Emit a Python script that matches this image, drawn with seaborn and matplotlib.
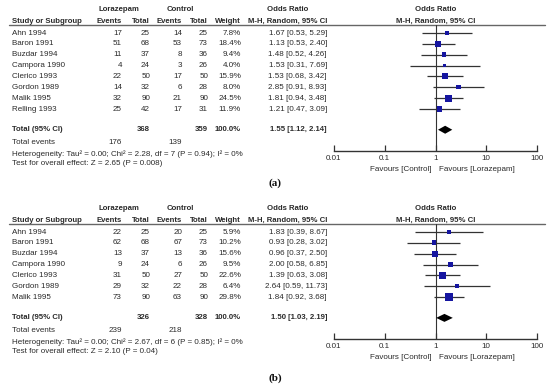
import numpy as np
import pandas as pd
import matplotlib
matplotlib.use("Agg")
import matplotlib.pyplot as plt
import seaborn as sns

sns.set_theme(style="white")
plt.rcParams['font.family'] = ['Liberation Sans', 'DejaVu Sans']

# ---------------- data: panel (a) ----------------
a_studies = ["Ahn 1994", "Baron 1991", "Buzdar 1994", "Campora 1990", "Clerico 1993",
             "Gordon 1989", "Malik 1995", "Relling 1993"]
a_lor_events = [17, 51, 11, 4, 22, 14, 32, 25]
a_lor_total = [25, 68, 37, 24, 50, 32, 90, 42]
a_ctl_events = [14, 53, 8, 3, 17, 6, 21, 17]
a_ctl_total = [25, 73, 36, 26, 50, 28, 90, 31]
a_weight = [7.8, 18.4, 9.4, 4.0, 15.9, 8.0, 24.5, 11.9]
a_or = [1.67, 1.13, 1.48, 1.53, 1.53, 2.85, 1.81, 1.21]
a_lo = [0.53, 0.53, 0.52, 0.31, 0.68, 0.91, 0.94, 0.47]
a_hi = [5.29, 2.40, 4.26, 7.69, 3.42, 8.93, 3.48, 3.09]
a_total = [368, 359]
a_total_events = [176, 139]
a_pooled = [1.55, 1.12, 2.14]
a_het = "Heterogeneity: Tau\u00b2 = 0.00; Chi\u00b2 = 2.28, df = 7 (P = 0.94); I\u00b2 = 0%"
a_test = "Test for overall effect: Z = 2.65 (P = 0.008)"

# ---------------- data: panel (b) ----------------
b_studies = ["Ahn 1994", "Baron 1991", "Buzdar 1994", "Campora 1990", "Clerico 1993",
             "Gordon 1989", "Malik 1995"]
b_lor_events = [22, 62, 13, 9, 31, 29, 73]
b_lor_total = [25, 68, 37, 24, 50, 32, 90]
b_ctl_events = [20, 67, 13, 6, 27, 22, 63]
b_ctl_total = [25, 73, 36, 26, 50, 28, 90]
b_weight = [5.9, 10.2, 15.6, 9.5, 22.6, 6.4, 29.8]
b_or = [1.83, 0.93, 0.96, 2.00, 1.39, 2.64, 1.84]
b_lo = [0.39, 0.28, 0.37, 0.58, 0.63, 0.59, 0.92]
b_hi = [8.67, 3.02, 2.50, 6.85, 3.08, 11.73, 3.68]
b_total = [326, 328]
b_total_events = [239, 218]
b_pooled = [1.50, 1.03, 2.19]
b_het = "Heterogeneity: Tau\u00b2 = 0.00; Chi\u00b2 = 2.67, df = 6 (P = 0.85); I\u00b2 = 0%"
b_test = "Test for overall effect: Z = 2.10 (P = 0.04)"

ticks = [0.01, 0.1, 1, 10, 100]
tick_labels = ["0.01", "0.1", "1", "10", "100"]

# ---------------- figure ----------------
W, H = 550, 389
fig = plt.figure(figsize=(W / 100, H / 100), dpi=100)
bg = fig.add_axes([0, 0, 1, 1])
bg.set_xlim(0, W)
bg.set_ylim(H, 0)
bg.axis("off")

FS = 5.8
FSB = 5.55
TC = "#2a2a2a"
MC = "#1515a0"

# column anchors (pixels)
X_NAME, X_EV1, X_TOT1, X_EV2, X_TOT2, X_W, X_OR = 12, 122, 150, 182, 208, 241, 327
FX0, FX1 = 334, 537


def txt(x, y, s, ha="left", bold=False, **kw):
    bg.text(x, y, s, ha=ha, va="center", fontsize=FSB if bold else FS, color=TC,
            fontweight="bold" if bold else "normal", **kw)


def panel(top, studies, le, lt, ce, ct, w, orr, lo, hi, total, tev, pooled, het, test, label, label_y):
    h1 = top + 9
    h2 = top + 21
    line_y = top + 25
    y0 = top + 33
    dy = 10.86
    rows = [y0 + i * dy for i in range(len(studies))]
    total_y = rows[-1] + 2 * dy - 1.0
    axis_y = total_y + 21.5

    # headers
    txt(119, h1, "Lorazepam", ha="center", bold=True)
    txt(180, h1, "Control", ha="center", bold=True)
    txt(288, h1, "Odds Ratio", ha="center", bold=True)
    txt(436, h1, "Odds Ratio", ha="center", bold=True)
    txt(X_NAME, h2, "Study or Subgroup", bold=True)
    txt(X_EV1, h2, "Events", ha="right", bold=True)
    txt(X_TOT1, h2, "Total", ha="right", bold=True)
    txt(X_EV2, h2, "Events", ha="right", bold=True)
    txt(X_TOT2, h2, "Total", ha="right", bold=True)
    txt(X_W, h2, "Weight", ha="right", bold=True)
    txt(X_OR, h2, "M-H, Random, 95% CI", ha="right", bold=True)
    txt(436, h2, "M-H, Random, 95% CI", ha="center", bold=True)
    bg.plot([9, 545], [line_y, line_y], color="#666666", lw=1.0)

    # study rows
    for i, y in enumerate(rows):
        txt(X_NAME, y, studies[i])
        txt(X_EV1, y, str(le[i]), ha="right")
        txt(X_TOT1, y, str(lt[i]), ha="right")
        txt(X_EV2, y, str(ce[i]), ha="right")
        txt(X_TOT2, y, str(ct[i]), ha="right")
        txt(X_W, y, f"{w[i]:.1f}%", ha="right")
        txt(X_OR, y, f"{orr[i]:.2f} [{lo[i]:.2f}, {hi[i]:.2f}]", ha="right")

    txt(X_NAME, total_y, "Total (95% CI)", bold=True)
    txt(X_TOT1, total_y, str(total[0]), ha="right", bold=True)
    txt(X_TOT2, total_y, str(total[1]), ha="right", bold=True)
    txt(X_W, total_y, "100.0%", ha="right", bold=True)
    txt(X_OR, total_y, f"{pooled[0]:.2f} [{pooled[1]:.2f}, {pooled[2]:.2f}]", ha="right", bold=True)
    txt(X_NAME, total_y + 13, "Total events")
    txt(X_EV1, total_y + 13, str(tev[0]), ha="right")
    txt(X_EV2, total_y + 13, str(tev[1]), ha="right")
    txt(X_NAME, total_y + 24, het)
    txt(X_NAME, total_y + 34, test)

    # forest axes: y in figure pixel units
    ax = fig.add_axes([FX0 / W, 1 - axis_y / H, (FX1 - FX0) / W, (axis_y - line_y) / H])
    ax.set_facecolor("none")
    ax.set_xscale("log")
    ax.set_xlim(0.01, 100)
    ax.set_ylim(axis_y, line_y)
    for s in ["left", "right", "top"]:
        ax.spines[s].set_visible(False)
    ax.spines["bottom"].set_color("#333333")
    ax.spines["bottom"].set_linewidth(1.0)
    ax.set_xticks(ticks)
    ax.set_xticklabels(tick_labels)
    ax.minorticks_off()
    ax.tick_params(axis="x", direction="in", length=4, width=0.9, color="#333333",
                   labelsize=FS, labelcolor=TC, pad=2.5, bottom=True)
    ax.set_yticks([])
    ax.axvline(1, color="#333333", lw=0.8)
    ax.hlines(rows, lo, hi, color="#333333", lw=0.9)
    df = pd.DataFrame({"or": orr, "y": rows, "w": w})
    sns.scatterplot(data=df, x="or", y="y", size="w", sizes=(0, 34), size_norm=(0, 30),
                    marker="s", color=MC, linewidth=0, legend=False, ax=ax, zorder=3)
    ax.set_xlabel("")
    ax.set_ylabel("")
    ax.fill([pooled[1], pooled[0], pooled[2], pooled[0]],
            [total_y, total_y - 4, total_y, total_y + 4], color="black", lw=0, zorder=4)

    fav_y = axis_y + 18.5
    txt(432, fav_y, "Favours [Control]", ha="right")
    txt(439, fav_y, "Favours [Lorazepam]", ha="left")

    bg.text(275, label_y, label, ha="center", va="center", fontsize=8, fontweight="bold",
            family="Liberation Serif", color="#111111")


panel(0, a_studies, a_lor_events, a_lor_total, a_ctl_events, a_ctl_total, a_weight,
      a_or, a_lo, a_hi, a_total, a_total_events, a_pooled, a_het, a_test, "(a)", 183)
panel(199, b_studies, b_lor_events, b_lor_total, b_ctl_events, b_ctl_total, b_weight,
      b_or, b_lo, b_hi, b_total, b_total_events, b_pooled, b_het, b_test, "(b)", 378)

fig.savefig("out.png", dpi=100)
